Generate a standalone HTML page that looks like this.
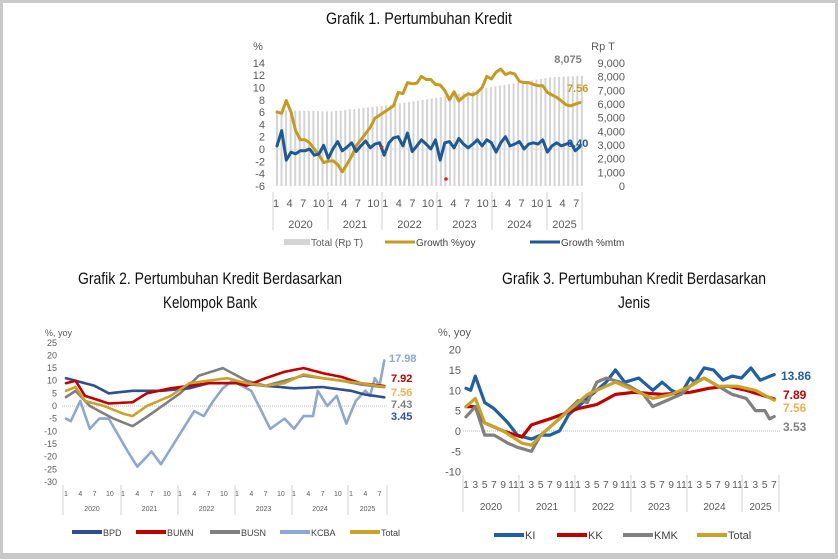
<!DOCTYPE html>
<html><head><meta charset="utf-8"><style>
html,body{margin:0;padding:0;background:#fff;}
#w{position:relative;width:838px;height:559px;box-sizing:border-box;border:3px solid #c9c9c9;border-bottom-width:6px;background:#fff;overflow:hidden;}
svg{position:absolute;left:-3px;top:-3px;font-family:"Liberation Sans",sans-serif;}
</style></head><body><div id="w">
<svg id="s" width="838" height="559" xmlns="http://www.w3.org/2000/svg"></svg>
</div>
<script>
const S=document.getElementById('s');let h='';
function T(x,y,t,o){o=o||{};const tl=o.tl?` textLength="${o.tl}" lengthAdjust="spacingAndGlyphs"`:'';h+=`<text x="${x}" y="${y}" font-size="${o.fs||11}" fill="${o.c||'#595959'}" text-anchor="${o.a||'middle'}" font-weight="${o.w||'normal'}"${tl}>${t}</text>`;}
function interp(pts,n){const r=[];for(let i=0;i<n;i++){let k=0;while(k<pts.length-2&&pts[k+1][0]<i)k++;const [a,va]=pts[k],[b,vb]=pts[k+1];let t=(i-a)/(b-a);t=Math.max(0,Math.min(1,t));r.push(va+(vb-va)*t);}return r;}
function line(vals,fx,fy,c,w){h+=`<polyline fill="none" stroke="${c}" stroke-width="${w}" stroke-linejoin="round" stroke-linecap="round" points="${vals.map((v,i)=>fx(i).toFixed(1)+','+fy(v).toFixed(1)).join(' ')}"/>`;}
function legItem(x,y,c,label,fs,lw){h+=`<line x1="${x}" y1="${y}" x2="${x+30}" y2="${y}" stroke="${c}" stroke-width="${lw||4}"/>`;T(x+31,y+4,label,{a:'start',fs:fs,c:'#404040'});}

// Titles
T(419,24,'Grafik 1. Pertumbuhan Kredit',{fs:17,c:'#111',tl:186});
T(210,284,'Grafik 2. Pertumbuhan Kredit Berdasarkan',{fs:17,c:'#111',tl:264});
T(210,308,'Kelompok Bank',{fs:17,c:'#111',tl:94});
T(634,284,'Grafik 3. Pertumbuhan Kredit Berdasarkan',{fs:17,c:'#111',tl:264});
T(634,308,'Jenis',{fs:17,c:'#111',tl:32});

// ===== Chart 1 =====
{const y0=149,py=6.15,x0=277,dx=4.55;const fy=v=>y0-v*py,fx=i=>x0+i*dx;
T(258,50,'%',{fs:11});
for(let v=14;v>=-6;v-=2)T(265,fy(v)+4,v,{a:'end',fs:11});
T(603,50,'Rp T',{fs:11});
for(let v=0;v<=9000;v+=1000)T(625,186-v/9000*123+4,v.toLocaleString('en-US'),{a:'end',fs:11});
const bars=interp([[0,5560],[12,5450],[24,5900],[36,6500],[48,7300],[60,7950],[67,8075]],68);
bars.forEach((b,i)=>{const y=186-b/9000*123;h+=`<rect x="${fx(i)-1}" y="${y}" width="2" height="${186-y}" fill="#d4d4d4"/>`;});
h+=`<line x1="272" y1="${y0}" x2="585" y2="${y0}" stroke="#ddd" stroke-width="1"/>`;
const yoy=interp([[0,6],[1,5.8],[2,7.9],[3,6],[4,3],[5,1.5],[6,1.5],[7,1],[8,0],[9,-1],[10,-2.2],[11,-2],[12,-1.9],[13,-2.5],[14,-3.7],[15,-2.5],[16,-1.2],[17,0.5],[18,1.5],[19,2.5],[20,3.5],[21,5],[22,5.5],[23,6],[24,6.5],[25,7],[26,9.2],[27,9],[28,10.8],[29,10.6],[30,10.7],[31,11.8],[32,11.3],[33,11.3],[34,10.5],[35,10.4],[36,9.5],[37,8],[38,9.3],[39,7.8],[40,8.5],[41,9],[42,8.8],[43,9.2],[44,10],[45,11.8],[46,11.4],[47,12.5],[48,13],[49,12.1],[50,12.4],[51,12.2],[52,11],[53,10.8],[54,10.8],[55,10.5],[56,10.3],[57,10.3],[58,9.2],[59,8.8],[60,8.4],[61,7.8],[62,7.2],[63,7],[64,7.3],[65,7.56]],66);
const mtm=interp([[0,0.5],[1,3],[2,-1.8],[3,-0.5],[4,-0.8],[5,-0.3],[6,-0.3],[7,0],[8,-1],[9,-0.8],[10,0.6],[11,-1.5],[12,0],[13,1.2],[14,-0.3],[15,0.3],[16,1],[17,-0.4],[18,0.5],[19,1.3],[20,0.2],[21,0.8],[22,1],[23,-1],[24,1],[25,1.8],[26,2],[27,0.5],[28,2.6],[29,-0.4],[30,0.5],[31,1.5],[32,0.8],[33,0],[34,1.5],[35,-1.8],[36,1],[37,1.2],[38,0.2],[39,1.7],[40,0.8],[41,0.2],[42,0.8],[43,1.5],[44,0.5],[45,1.5],[46,1],[47,-0.5],[48,1],[49,2],[50,0.5],[51,0.8],[52,1.2],[53,0],[54,0.8],[55,1],[56,0.8],[57,1.5],[58,-0.5],[59,0.5],[60,1],[61,0.5],[62,0.8],[63,1],[64,-0.3],[65,0.4]],66);
const fx1=i=>x0+i*(580-x0)/65;
line(yoy,fx1,fy,'#c59a1f',3);line(mtm,fx1,fy,'#1c5a96',3);
h+=`<circle cx="382" cy="147" r="1.5" fill="#d22"/><circle cx="446" cy="179" r="1.8" fill="#d22"/>`;
T(568,63,'8,075',{fs:11,w:'bold',c:'#808080'});
T(567,92,'7.56',{fs:11,w:'bold',c:'#c59a1f',a:'start'});
T(567,147,'0.40',{fs:11,w:'bold',c:'#1c5a96',a:'start'});
const ms=['1','4','7','10'];const yx=[273,328,382,437,492,547,582];
for(let yI=0;yI<6;yI++){for(let k=0;k<(yI==5?3:4);k++)T(276+yI*54.6+k*13.6+(k==3?2:0),207,ms[k],{fs:11});T((yx[yI]+yx[yI+1])/2,228,2020+yI,{fs:11});}
yx.forEach(x=>h+=`<line x1="${x}" y1="192" x2="${x}" y2="230" stroke="#d0d0d0"/>`);
h+=`<rect x="284" y="239" width="26" height="6" fill="#d4d4d4"/>`;T(311,246,'Total (Rp T)',{a:'start',fs:10});
legItem(385,242,'#c59a1f','Growth %yoy',10,3);legItem(530,242,'#1c5a96','Growth %mtm',10,3);
}

// ===== Chart 2 =====
{const y0=406,py=2.53,x0=66,dx=4.75;const fy=v=>y0-v*py,fx=i=>x0+i*dx;
T(45,336,'%, yoy',{fs:9,a:'start'});
for(let v=25;v>=-30;v-=5)T(57,fy(v)+3,v,{a:'end',fs:9});
h+=`<line x1="62" y1="${y0}" x2="388" y2="${y0}" stroke="#bbb" stroke-dasharray="1,1"/>`;
const L=(p,c)=>line(interp(p,68),fx,fy,c,2.6);
L([[0,-5],[1,-6],[3,2],[5,-9],[7,-5],[9,-5],[13,-18],[15,-24],[18,-18],[20,-23],[23,-14],[27,-2],[29,-4],[31,2],[33,7],[35,10],[39,6],[43,-9],[46,-5],[48,-9],[50,-4],[52,-4],[53,6],[55,0],[57,4],[59,-7],[61,2],[63,6],[64,4],[65,11],[66,8],[67,17.98]],'#8ea6d2');
L([[0,3.5],[2,6],[5,0],[10,-5],[14,-8],[18,-3],[24,5],[28,12],[33,15],[38,10],[42,8],[46,10],[50,12],[54,11],[58,10],[62,8.5],[67,7.43]],'#7f7f7f');
L([[0,11],[6,8],[9,5],[14,6],[20,6],[26,7],[30,9],[36,9],[42,8],[48,7],[54,7.5],[60,6],[63,4.5],[67,3.45]],'#2f4f8f');
L([[0,9],[2,10],[4,4],[9,1],[14,1.5],[17,5],[22,7],[26,8],[30,9],[36,9],[38,8],[42,11],[46,13.5],[50,15],[54,13],[58,11.5],[62,9],[67,7.92]],'#c00000');
L([[0,6],[2,7.5],[4,2],[8,0],[12,-3],[14,-4],[17,0],[22,4],[26,9],[30,10],[34,11],[38,9],[42,8],[46,9],[50,12.5],[54,11],[58,10],[62,9],[67,7.56]],'#c9a227');
T(389,362,'17.98',{fs:11,w:'bold',c:'#8ea6d2',a:'start'});
T(391,382,'7.92',{fs:11,w:'bold',c:'#c00000',a:'start'});
T(391,396,'7.56',{fs:11,w:'bold',c:'#f0b050',a:'start'});
T(391,408,'7.43',{fs:11,w:'bold',c:'#7f7f7f',a:'start'});
T(391,420,'3.45',{fs:11,w:'bold',c:'#2f4f8f',a:'start'});
const yx=[63,121,178,235,292,348,387];const ms=['1','4','7','10'];
for(let yI=0;yI<6;yI++){for(let k=0;k<(yI==5?3:4);k++)T(66+yI*57+k*14.3+(k==3?1:0),496,ms[k],{fs:7});T((yx[yI]+yx[yI+1])/2,511,2020+yI,{fs:7});}
yx.forEach(x=>h+=`<line x1="${x}" y1="485" x2="${x}" y2="515" stroke="#d0d0d0"/>`);
legItem(72,532,'#2f4f8f','BPD',9);legItem(136,532,'#c00000','BUMN',9);legItem(210,532,'#7f7f7f','BUSN',9);legItem(280,532,'#8ea6d2','KCBA',9);legItem(350,532,'#c9a227','Total',9);
}

// ===== Chart 3 =====
{const y0=431,py=4.07,x0=466,dx=4.67;const fy=v=>y0-v*py,fx=i=>x0+i*dx;
T(438,336,'%, yoy',{fs:11,a:'start'});
for(let v=20;v>=-10;v-=5)T(461,fy(v)+4,v,{a:'end',fs:11});
h+=`<line x1="463" y1="${y0}" x2="780" y2="${y0}" stroke="#bbb" stroke-dasharray="1,1"/>`;
const L=(p,c)=>line(interp(p,67),fx,fy,c,3.2);
L([[0,10.5],[1,10],[2,13.5],[4,7],[6,5.5],[9,2],[11,-1],[14,-2],[16,-1],[18,-1],[20,0],[22,4],[24,6],[26,8],[28,10],[30,12],[32,15],[34,12],[37,13],[40,10],[42,12],[44,10],[46,9],[48,13],[49,12],[51,15.5],[53,15],[55,12.5],[57,13.5],[59,13],[61,15.5],[63,12.5],[66,13.86]],'#1f5fa8');
L([[0,6],[2,6],[4,2],[8,0],[12,-1.5],[14,1.5],[18,3],[24,5.5],[28,6.5],[32,9],[36,9.5],[42,9],[48,9.5],[52,10.5],[56,11],[60,10],[66,7.89]],'#c00000');
L([[0,3.5],[2,6],[4,-1],[6,-1],[9,-3],[11,-4],[14,-5],[16,-1],[20,3],[24,7.5],[26,7],[28,12],[30,13],[33,12],[35,11],[38,9],[40,6],[42,7],[44,8],[46,9],[49,12],[51,13],[54,11],[57,9],[60,8],[62,5],[64,5],[65,3],[66,3.53]],'#808080');
L([[0,6],[2,8],[4,2],[8,0],[12,-3],[14,-3.5],[17,0],[22,5],[26,9],[30,11],[32,12],[36,10],[40,8],[44,9],[48,11],[51,13],[54,11],[58,11],[62,10],[66,7.56]],'#c9a227');
T(781,380,'13.86',{fs:12,w:'bold',c:'#1f5fa8',a:'start'});
T(783,399,'7.89',{fs:12,w:'bold',c:'#c00000',a:'start'});
T(783,412,'7.56',{fs:12,w:'bold',c:'#f0b050',a:'start'});
T(783,431,'3.53',{fs:12,w:'bold',c:'#808080',a:'start'});
const yx=[463,519,575,631,687,742,779];
for(let yI=0;yI<6;yI++){const n=yI==5?4:6;for(let k=0;k<n;k++){const lab=String(2*k+1);T(466+yI*56+k*9.3+(k==5?1:0),488,lab,{fs:10});}T((yx[yI]+yx[yI+1])/2,510,2020+yI,{fs:10});}
yx.forEach(x=>h+=`<line x1="${x}" y1="475" x2="${x}" y2="512" stroke="#d0d0d0"/>`);
legItem(494,535,'#1f5fa8','KI',11);legItem(557,535,'#c00000','KK',11);legItem(623,535,'#808080','KMK',11);legItem(697,535,'#c9a227','Total',11);
}
S.innerHTML=h;
</script>
</body></html>
